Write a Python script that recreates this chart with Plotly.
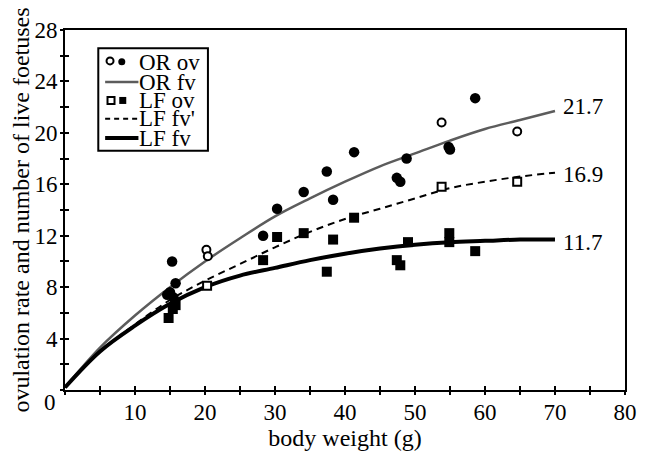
import plotly.graph_objects as go

# ---------------- data ----------------
weight_fit = [0, 5, 10, 15, 20, 25, 30, 35, 40, 45, 50, 55, 60, 65, 70]
or_fv = [0.2, 3.3, 5.8, 8.0, 10.0, 11.8, 13.5, 14.9, 16.2, 17.4, 18.4, 19.4, 20.3, 21.0, 21.7]
lf_fv_prime = [0.2, 3.0, 5.1, 7.0, 8.5, 9.8, 11.1, 12.3, 13.3, 14.1, 14.9, 15.7, 16.2, 16.6, 16.9]
lf_fv = [0.2, 3.0, 5.0, 6.7, 8.0, 8.9, 9.5, 10.1, 10.6, 11.0, 11.3, 11.5, 11.6, 11.7, 11.7]

or_ov_filled_x = [15.3, 15.8, 15.0, 15.5, 14.6, 28.3, 30.3, 34.1, 37.4, 38.3, 41.3, 47.4, 47.9, 48.8, 54.8, 55.0, 58.6]
or_ov_filled_y = [10.0, 8.3, 7.6, 7.2, 7.4, 12.0, 14.1, 15.4, 17.0, 14.8, 18.5, 16.5, 16.2, 18.0, 18.9, 18.7, 22.7]
or_ov_open_x = [20.2, 20.4, 53.8, 64.6]
or_ov_open_y = [10.9, 10.4, 20.8, 20.1]

lf_ov_filled_x = [14.8, 15.4, 15.8, 28.3, 30.3, 34.1, 37.4, 38.3, 41.3, 47.4, 47.9, 49.0, 54.9, 54.9, 58.6]
lf_ov_filled_y = [5.6, 6.3, 6.6, 10.1, 11.9, 12.2, 9.2, 11.7, 13.4, 10.1, 9.7, 11.5, 12.2, 11.5, 10.8]
lf_ov_open_x = [20.3, 53.8, 64.6]
lf_ov_open_y = [8.1, 15.8, 16.2]

x_ticks = list(range(0, 81, 5))
y_ticks = list(range(0, 29, 2))
x_ticktext = [str(v) if (v % 10 == 0 and v != 0) else "" for v in x_ticks]
y_ticktext = [str(v) if (v % 4 == 0 and v != 0) else "" for v in y_ticks]

FONT = "Liberation Serif, Times New Roman, Times, serif"
FS = 23
GRAY = "#5c5c5c"


def fnt(size=FS):
    return dict(family=FONT, size=size, color="black")


# ---------------- figure ----------------
fig = go.Figure()

fig.add_trace(go.Scatter(x=weight_fit, y=or_fv, mode="lines", line_shape="spline",
                         line=dict(color=GRAY, width=2.5), showlegend=False))
fig.add_trace(go.Scatter(x=weight_fit, y=lf_fv_prime, mode="lines", line_shape="spline",
                         line=dict(color="black", width=2, dash="7px,5px"), showlegend=False))
fig.add_trace(go.Scatter(x=weight_fit, y=lf_fv, mode="lines", line_shape="spline",
                         line=dict(color="black", width=4), showlegend=False))

fig.add_trace(go.Scatter(x=or_ov_filled_x, y=or_ov_filled_y, mode="markers",
                         marker=dict(symbol="circle", size=10.5, color="black", line=dict(width=0)),
                         showlegend=False))
fig.add_trace(go.Scatter(x=or_ov_open_x, y=or_ov_open_y, mode="markers",
                         marker=dict(symbol="circle", size=8, color="white",
                                     line=dict(color="black", width=2)), showlegend=False))
fig.add_trace(go.Scatter(x=lf_ov_filled_x, y=lf_ov_filled_y, mode="markers",
                         marker=dict(symbol="square", size=10, color="black", line=dict(width=0)),
                         showlegend=False))
fig.add_trace(go.Scatter(x=lf_ov_open_x, y=lf_ov_open_y, mode="markers",
                         marker=dict(symbol="square", size=8, color="white",
                                     line=dict(color="black", width=2)), showlegend=False))
# empty trace to activate overlay axes (outside half of crossing ticks)
fig.add_trace(go.Scatter(x=[], y=[], xaxis="x2", yaxis="y2", showlegend=False))

# ---------------- layout ----------------
# the page body adds an 8 px offset, so the figure is 8 px smaller and shifted
OFF = 8
PAGE_W, PAGE_H = 647, 451
PLOT_X0, PLOT_X1, PLOT_Y0, PLOT_Y1 = 65, 637, 24, 397   # plot area in page pixels
W, H = PAGE_W - OFF, PAGE_H - OFF
L, T = PLOT_X0 - OFF, PLOT_Y0 - OFF
R, B = PAGE_W - PLOT_X1, PAGE_H - PLOT_Y1
PW, PH = PLOT_X1 - PLOT_X0, PLOT_Y1 - PLOT_Y0


def px2paper(xp, yp):
    """page pixel -> paper coordinates"""
    return (xp - PLOT_X0) / PW, (PLOT_Y1 - yp) / PH


fig.update_layout(
    width=W, height=H,
    margin=dict(l=L, r=R, t=T, b=B, pad=0),
    paper_bgcolor="white", plot_bgcolor="white",
    font=fnt(),
    showlegend=False,
    xaxis=dict(range=[0, 80], tickvals=x_ticks, ticktext=x_ticktext, ticks="inside",
               ticklen=4, tickwidth=2, tickcolor="black", showgrid=False, zeroline=False,
               showline=True, linecolor="black", linewidth=2, mirror=True,
               tickfont=fnt(),
               title=dict(text="body weight (g)", font=fnt(24), standoff=0)),
    yaxis=dict(range=[0, 28], tickvals=y_ticks, ticktext=y_ticktext, ticks="inside",
               ticklen=4, tickwidth=2, tickcolor="black", showgrid=False, zeroline=False,
               showline=True, linecolor="black", linewidth=2, mirror=True,
               ticklabelstandoff=1,
               tickfont=fnt(),
               title=dict(text="ovulation rate and number of live foetuses",
                          font=fnt(24), standoff=0)),
    xaxis2=dict(range=[0, 80], overlaying="x", anchor="y", side="bottom", tickvals=x_ticks,
                ticks="outside", ticklen=4, tickwidth=2, tickcolor="black",
                showticklabels=False, showgrid=False, zeroline=False, showline=False),
    yaxis2=dict(range=[0, 28], overlaying="y", anchor="x", side="left", tickvals=y_ticks,
                ticks="outside", ticklen=4, tickwidth=2, tickcolor="black",
                showticklabels=False, showgrid=False, zeroline=False, showline=False),
)

annotations = []
# shared origin label
ox, oy = px2paper(50, 410)
annotations.append(dict(x=ox, y=oy, xref="paper", yref="paper", text="0", showarrow=False,
                        xanchor="center", yanchor="middle", font=fnt()))

# end-of-curve value labels
for series, ys in ((or_fv, 5), (lf_fv_prime, -2), (lf_fv, -3)):
    annotations.append(dict(x=weight_fit[-1], y=series[-1], xref="x", yref="y",
                            text=f"{series[-1]:.1f}", showarrow=False, xanchor="left",
                            yanchor="middle", xshift=6, yshift=ys, font=fnt()))

# manual legend
legend_rows = [("OR ov", 58), ("OR fv", 78), ("LF ov", 97), ("LF fv'", 116), ("LF fv", 136)]
for text, yp in legend_rows:
    ax, ay = px2paper(140, yp)
    annotations.append(dict(x=ax, y=ay, xref="paper", yref="paper", text=text, showarrow=False,
                            xanchor="left", yanchor="middle", height=19, borderpad=0,
                            font=fnt()))
fig.update_layout(annotations=annotations)

shapes = []
bx0, by0 = px2paper(99, 43)
bx1, by1 = px2paper(211, 149)
shapes.append(dict(type="rect", xref="paper", yref="paper", x0=bx0, y0=by1, x1=bx1, y1=by0,
                   line=dict(color="black", width=2), fillcolor="white", layer="below"))


def line_sample(yp, color, width, dash="solid"):
    x0, y0 = px2paper(106, yp)
    x1, _ = px2paper(140, yp)
    return dict(type="line", xref="paper", yref="paper", x0=x0, y0=y0, x1=x1, y1=y0,
                line=dict(color=color, width=width, dash=dash))


def glyph(xp, yp, kind, filled):
    xa, ya = px2paper(xp, yp)
    s = 3.5
    return dict(type="circle" if kind == "c" else "rect", xref="paper", yref="paper",
                xsizemode="pixel", ysizemode="pixel", xanchor=xa, yanchor=ya,
                x0=-s, x1=s, y0=-s, y1=s,
                fillcolor="black" if filled else "white",
                line=dict(color="black", width=2 if not filled else 0))


shapes += [
    glyph(111, 56, "c", False), glyph(123, 57, "c", True),
    line_sample(78, GRAY, 2.5),
    glyph(112, 97, "s", False), glyph(124, 97, "s", True),
    line_sample(116, "black", 2, "5px,4px"),
    line_sample(136, "black", 4),
]
fig.update_layout(shapes=shapes)

fig.write_html("out.html")
